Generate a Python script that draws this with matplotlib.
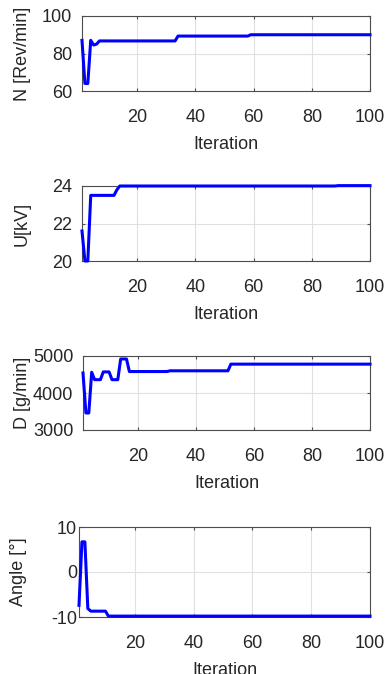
import numpy as np
import matplotlib
matplotlib.use("Agg")
import matplotlib.pyplot as plt

plt.rcParams['font.family'] = ['Liberation Sans', 'DejaVu Sans']
plt.rcParams['axes.unicode_minus'] = False

iteration = np.arange(1, 101)

speed_n = [87, 64, 64, 87, 84.5, 85] + [86.7] * 27 + [89.3] * 25 + [90] * 42
voltage_u = [21.6, 20, 20] + [23.5] * 9 + [23.8] + [24] * 75 + [24.02] * 12
dose_d = [4540, 3460, 3460, 4560, 4360, 4360, 4360, 4570, 4570, 4570,
          4360, 4360, 4360, 4920, 4920, 4920] + [4580] * 14 + [4600] * 21 + [4780] * 49
angle = [-7.4, 6.7, 6.7, -8.1] + [-8.7] * 6 + [-9.8] * 90

panels = [
    (speed_n, 'N [Rev/min]', (60, 100), [60, 80, 100]),
    (voltage_u, 'U[kV]', (20, 24), [20, 22, 24]),
    (dose_d, 'D [g/min]', (3000, 5000), [3000, 4000, 5000]),
    (angle, 'Angle [°]', (-10, 10), [-10, 0, 10]),
]

# axes boxes in pixels: left, right, top, bottom
boxes = [(82, 370, 16, 91), (82, 370, 186, 261), (83, 370, 356, 430), (79, 370, 527, 617)]
ylabel_right = [31, 31, 31, 27.5]
ytick_pad = [7, 7, 7, 1.5]

W, H = 385, 674
fig = plt.figure(figsize=(W / 100, H / 100), dpi=100)
txt = '#262626'
fs = 13

for (y, label, ylim, yticks), (l, r, t, b), lx, pad in zip(panels, boxes, ylabel_right, ytick_pad):
    ax = fig.add_axes([l / W, 1 - b / H, (r - l) / W, (b - t) / H])
    ax.plot(iteration, y, color='#0000ff', lw=2.2, clip_on=False, zorder=3)
    ax.set_xlim(1, 100)
    ax.set_ylim(*ylim)
    ax.set_xticks([20, 40, 60, 80, 100])
    ax.set_yticks(yticks)
    ax.grid(True, color='#e0e0e0', lw=0.8)
    ax.set_axisbelow(True)
    for s in ax.spines.values():
        s.set_color('#4d4d4d')
        s.set_linewidth(0.8)
    ax.tick_params(axis='both', direction='in', length=2.5, width=0.8, colors='#4d4d4d',
                   labelcolor=txt, labelsize=fs, top=True, right=True)
    ax.tick_params(axis='x', pad=13)
    ax.tick_params(axis='y', pad=pad)
    ax.set_xlabel('Iteration', fontsize=fs, color=txt)
    ax.set_ylabel(label, fontsize=fs, color=txt)
    w, h = r - l, b - t
    ax.xaxis.set_label_coords(0.5, -45 / h)
    ax.yaxis.set_label_coords((lx - l) / w, 0.5)

fig.savefig('out.png', dpi=100)
